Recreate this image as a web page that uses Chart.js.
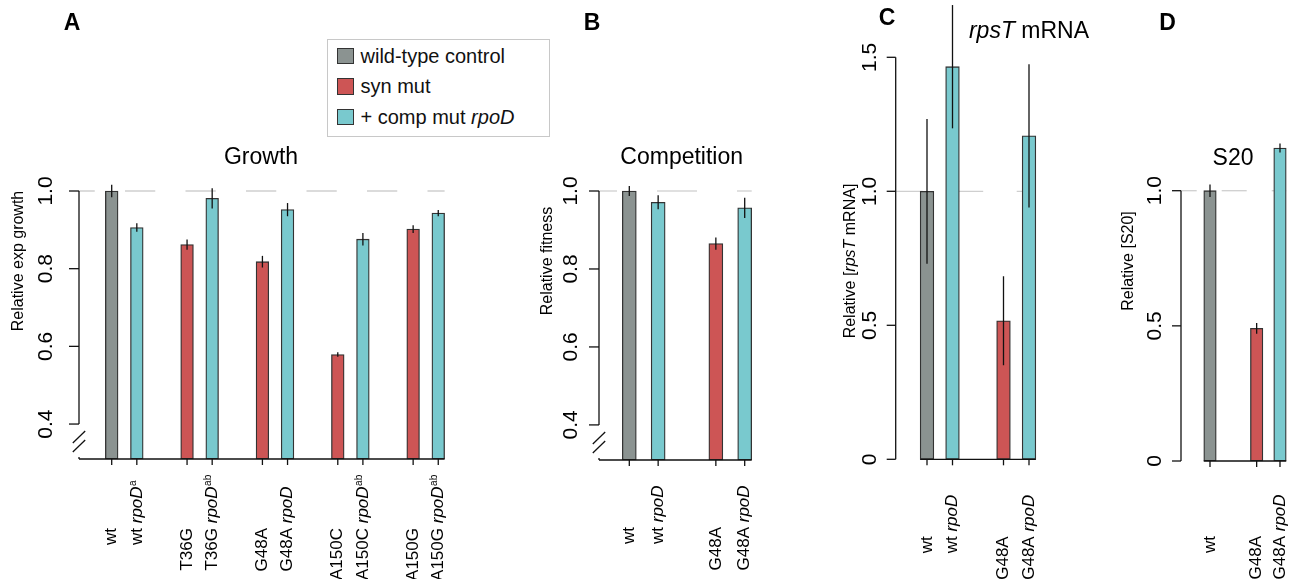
<!DOCTYPE html>
<html><head><meta charset="utf-8">
<script src="https://cdn.jsdelivr.net/npm/chart.js@4.4.1/dist/chart.umd.min.js"></script>
<style>
html,body{margin:0;padding:0;background:#fff;}
#wrap{position:relative;width:1290px;height:579px;overflow:hidden;font-family:"Liberation Sans",Arial,Helvetica,sans-serif;}
canvas{position:absolute;left:0;top:0;}
#legend{position:absolute;left:327px;top:39px;width:223px;height:98px;border:1px solid #c8c8c8;box-sizing:border-box;background:#fff;}
.item{position:absolute;left:9px;height:24px;display:flex;align-items:center;font-size:20px;color:#111;white-space:nowrap;}
.sw{display:inline-block;width:16.5px;height:16.5px;box-sizing:border-box;border:1.3px solid #333;margin-right:7px;}
</style></head>
<body><div id="wrap">
<canvas id="cA" width="1290" height="579"></canvas>
<canvas id="cB" width="1290" height="579"></canvas>
<canvas id="cC" width="1290" height="579"></canvas>
<canvas id="cD" width="1290" height="579"></canvas>
<div id="legend"></div>
</div>
<script>
// ---------------- data ----------------
const seriesNames = ["wild-type control", "syn mut", "+ comp mut rpoD"];
const seriesColors = ["#8B9391", "#CD5555", "#79C9CE"];

// A: Growth
const growthLabels = ["wt", "wt rpoD^a", "T36G", "T36G rpoD^ab", "G48A", "G48A rpoD", "A150C", "A150C rpoD^ab", "A150G", "A150G rpoD^ab"];
const growthSeries = [0, 2, 1, 2, 1, 2, 1, 2, 1, 2];
const growthValues = [1.000, 0.906, 0.862, 0.981, 0.818, 0.952, 0.579, 0.876, 0.902, 0.943];
const growthErrors = [0.016, 0.011, 0.013, 0.026, 0.015, 0.017, 0.006, 0.016, 0.010, 0.008];
const growthTicks = [0.4, 0.6, 0.8, 1.0];

// B: Competition
const fitnessLabels = ["wt", "wt rpoD", "G48A", "G48A rpoD"];
const fitnessSeries = [0, 2, 1, 2];
const fitnessValues = [1.000, 0.971, 0.865, 0.957];
const fitnessErrors = [0.013, 0.018, 0.016, 0.026];
const fitnessTicks = [0.4, 0.6, 0.8, 1.0];

// C: rpsT mRNA
const mrnaLabels = ["wt", "wt rpoD", "G48A", "G48A rpoD"];
const mrnaSeries = [0, 2, 1, 2];
const mrnaValues = [1.000, 1.465, 0.517, 1.207];
const mrnaErrors = [0.270, 0.230, 0.166, 0.267];
const mrnaTicks = [0, 0.5, 1.0, 1.5];

// D: S20
const s20Labels = ["wt", "G48A", "G48A rpoD"];
const s20Series = [0, 1, 2];
const s20Values = [1.000, 0.491, 1.158];
const s20Errors = [0.023, 0.020, 0.017];
const s20Ticks = [0, 0.5, 1.0];

// ---------------- layout / style ----------------
const W = 1290, H = 579;
const FONT = '"Liberation Sans", Arial, Helvetica, sans-serif';
const panels = [
  { id:'cA', letter:'A', title:'Growth', yTitle:'Relative exp growth',
    labels:growthLabels, series:growthSeries, values:growthValues, errors:growthErrors, yTicks:growthTicks,
    yMin:0.31, yMax:1.0, top:191, bottom:459, left:79, firstPx:111.7, slotPx:25.12, barPx:12.7,
    dash:[30.25,30.25], dashOffset:14.5, yLabelDx:33, yTitleX:18.5, titleX:261, titleY:164,
    letterX:72, letterY:30, xLabelDy:69, xAxisFromLeft:true, tickLen:10 },
  { id:'cB', letter:'B', title:'Competition', yTitle:'Relative fitness',
    labels:fitnessLabels, series:fitnessSeries, values:fitnessValues, errors:fitnessErrors, yTicks:fitnessTicks,
    yMin:0.31, yMax:1.0, top:191, bottom:460, left:599, firstPx:629.3, slotPx:28.85, barPx:14,
    dash:[40,40], dashOffset:22, yLabelDx:27.3, yTitleX:547.5, titleX:681.7, titleY:164,
    letterX:592, letterY:30, xLabelDy:67, xAxisFromLeft:true, tickLen:10 },
  { id:'cC', letter:'C', title:'rpsT mRNA', yTitle:'Relative [rpsT mRNA]',
    labels:mrnaLabels, series:mrnaSeries, values:mrnaValues, errors:mrnaErrors, yTicks:mrnaTicks,
    yMin:0, yMax:1.5, top:57.3, bottom:459.3, left:895.7, firstPx:927, slotPx:25.5, barPx:13.7,
    dash:[27,33.5], dashOffset:0, yLabelDx:25, yTitleX:850.5, titleX:1029, titleY:38,
    letterX:887, letterY:25, xLabelDy:77, xAxisFromLeft:false, tickLen:9 },
  { id:'cD', letter:'D', title:'S20', yTitle:'Relative [S20]',
    labels:s20Labels, series:s20Series, values:s20Values, errors:s20Errors, yTicks:s20Ticks,
    yMin:0, yMax:1.0, top:190.7, bottom:461, left:1181, firstPx:1210, slotPx:23.33, barPx:12.5,
    dash:[25,25], dashOffset:9.3, yLabelDx:26, yTitleX:1129, titleX:1233, titleY:165,
    letterX:1167.5, letterY:30, xLabelDy:75, xAxisFromLeft:false, tickLen:9 }
];

// ---------------- helpers ----------------
const GENES = /(rpoD|rpsT)/;
function segs(text){ return text.split(GENES).filter(s => s.length).map(s => ({t:s, it:GENES.test(s)})); }
function font(size, italic, bold){ return (italic?'italic ':'') + (bold?'bold ':'') + size + 'px ' + FONT; }
function slotPositions(labels){
  const out = []; let p = 0, prev = null;
  labels.forEach((lab, i) => { const strain = lab.split(' ')[0]; if (i > 0) p += (strain === prev ? 1 : 2); out.push(p); prev = strain; });
  return out;
}
function line(ctx, x0, y0, x1, y1){ ctx.beginPath(); ctx.moveTo(x0, y0); ctx.lineTo(x1, y1); ctx.stroke(); }
function drawMixed(ctx, text, x, y, size, rotate, bold, baseline){
  const parts = segs(text);
  ctx.save(); ctx.translate(x, y); if (rotate) ctx.rotate(-Math.PI/2);
  ctx.textBaseline = baseline || 'alphabetic'; ctx.textAlign = 'left'; ctx.fillStyle = '#000';
  const widths = parts.map(p => { ctx.font = font(size, p.it, bold); return ctx.measureText(p.t).width; });
  let cx = -widths.reduce((a,b) => a+b, 0)/2;
  parts.forEach((p, i) => { ctx.font = font(size, p.it, bold); ctx.fillText(p.t, cx, 0); cx += widths[i]; });
  ctx.restore();
}
function drawXLabel(ctx, text, x, y){
  const m = text.match(/^(\S+)(?: ([^\^\s]+))?(?:\^(\S+))?$/);
  const strain = m[1], gene = m[2], sup = m[3];
  const fs = 17;
  ctx.save(); ctx.translate(x, y); ctx.rotate(-Math.PI/2);
  ctx.fillStyle = '#000'; ctx.textBaseline = 'middle';
  ctx.font = font(fs, false, false); ctx.textAlign = 'right'; ctx.fillText(strain, 0, 0);
  if (gene) {
    const gap = ctx.measureText(' ').width;
    ctx.font = font(fs, true, false); ctx.textAlign = 'left'; ctx.fillText(gene, gap, 0);
    const gw = ctx.measureText(gene).width;
    if (sup) { ctx.font = font(10, false, false); ctx.fillText(sup, gap + gw + 0.5, -4); }
  }
  ctx.restore();
}
function fmt(v){ return v === 0 ? '0' : v.toFixed(1); }

const cfgById = {};

const decorPlugin = {
  id: 'panelDecor',
  beforeDatasetsDraw(chart){
    const cfg = cfgById[chart.canvas.id]; const ctx = chart.ctx, ca = chart.chartArea;
    const yy = chart.scales.y.getPixelForValue(1.0);
    ctx.save(); ctx.strokeStyle = '#cfcfcf'; ctx.lineWidth = 1.3;
    ctx.setLineDash(cfg.dash); ctx.lineDashOffset = cfg.dashOffset;
    line(ctx, ca.left, yy, ca.right, yy); ctx.restore();
  },
  afterDatasetsDraw(chart){
    const cfg = cfgById[chart.canvas.id]; const ctx = chart.ctx, ca = chart.chartArea;
    const xs = chart.scales.x, ys = chart.scales.y;
    ctx.save();
    ctx.strokeStyle = '#111'; ctx.lineWidth = 1.3; ctx.lineCap = 'butt';
    // error bars
    cfg.values.forEach((v, i) => {
      const px = xs.getPixelForValue(cfg.pos[i]);
      line(ctx, px, ys.getPixelForValue(v - cfg.errors[i]), px, ys.getPixelForValue(v + cfg.errors[i]));
    });
    // y axis
    const tv = ys.ticks.map(t => t.value);
    const yTop = ys.getPixelForValue(Math.max(...tv)), yBot = ys.getPixelForValue(Math.min(...tv));
    line(ctx, ca.left, yTop, ca.left, yBot);
    tv.forEach(v => {
      const ty = ys.getPixelForValue(v);
      line(ctx, ca.left - cfg.tickLen, ty, ca.left, ty);
      ctx.save(); ctx.translate(ca.left - cfg.yLabelDx, ty); ctx.rotate(-Math.PI/2);
      ctx.font = font(21, false, false); ctx.fillStyle = '#000'; ctx.textAlign = 'center'; ctx.textBaseline = 'middle';
      ctx.fillText(fmt(v), 0, 0); ctx.restore();
    });
    // axis break
    if (ys.min > 0) {
      [22, 13].forEach(d => line(ctx, ca.left - 6.2, ca.bottom - d + 6, ca.left + 6.2, ca.bottom - d - 6));
      line(ctx, ca.left, ca.bottom - 2, ca.left, ca.bottom);
    }
    // x axis
    const p0 = xs.getPixelForValue(cfg.pos[0]), pN = xs.getPixelForValue(cfg.pos[cfg.pos.length - 1]);
    const x0 = cfg.xAxisFromLeft ? ca.left : p0 - cfg.barPx/2;
    line(ctx, x0, ca.bottom, pN + cfg.barPx/2, ca.bottom);
    cfg.pos.forEach((p, i) => {
      const px = xs.getPixelForValue(p);
      line(ctx, px, ca.bottom, px, ca.bottom + 6);
      drawXLabel(ctx, cfg.labels[i], px, ca.bottom + cfg.xLabelDy);
    });
    ctx.restore();
    // titles
    drawMixed(ctx, cfg.yTitle, cfg.yTitleX, 261, 16, true, false, 'middle');
    drawMixed(ctx, cfg.title, cfg.titleX, cfg.titleY, 23, false, false, 'alphabetic');
    drawMixed(ctx, cfg.letter, cfg.letterX, cfg.letterY, 23, false, true, 'alphabetic');
  }
};

panels.forEach(cfg => {
  cfg.pos = slotPositions(cfg.labels);
  cfgById[cfg.id] = cfg;
  const lastPos = cfg.pos[cfg.pos.length - 1];
  const lastPx = cfg.firstPx + lastPos * cfg.slotPx;
  const right = lastPx + cfg.barPx/2;
  const xMin = (cfg.left - cfg.firstPx) / cfg.slotPx;
  const xMax = lastPos + (right - lastPx) / cfg.slotPx;
  const datasets = seriesNames.map((name, s) => ({
    label: name,
    data: cfg.values.map((v, i) => ({x: cfg.pos[i], y: v, s: cfg.series[i]})).filter(d => d.s === s).map(d => ({x: d.x, y: d.y})),
    backgroundColor: seriesColors[s],
    borderColor: '#333', borderWidth: 1.3, borderSkipped: false,
    grouped: false, clip: false, barThickness: cfg.barPx, base: cfg.yMin
  }));
  new Chart(document.getElementById(cfg.id), {
    type: 'bar',
    data: { datasets },
    plugins: [decorPlugin],
    options: {
      responsive: false, maintainAspectRatio: false, devicePixelRatio: 1, animation: false, events: [],
      layout: { padding: { left: cfg.left, right: W - right, top: cfg.top, bottom: H - cfg.bottom } },
      plugins: { legend: { display: false }, tooltip: { enabled: false }, title: { display: false } },
      scales: {
        x: { type: 'linear', min: xMin, max: xMax, offset: false, display: false },
        y: { type: 'linear', min: cfg.yMin, max: cfg.yMax, display: false,
             afterBuildTicks: (scale) => { scale.ticks = cfg.yTicks.map(v => ({value: v})); } }
      }
    }
  });
});

// legend (HTML, real text)
const leg = document.getElementById('legend');
seriesNames.forEach((n, i) => {
  const d = document.createElement('div');
  d.className = 'item';
  d.style.top = (4 + i * 30.5) + 'px';
  const txt = segs(n).map(p => p.it ? '<i>' + p.t + '</i>' : p.t).join('');
  d.innerHTML = '<span class="sw" style="background:' + seriesColors[i] + '"></span><span>' + txt + '</span>';
  leg.appendChild(d);
});
</script>
</body></html>
